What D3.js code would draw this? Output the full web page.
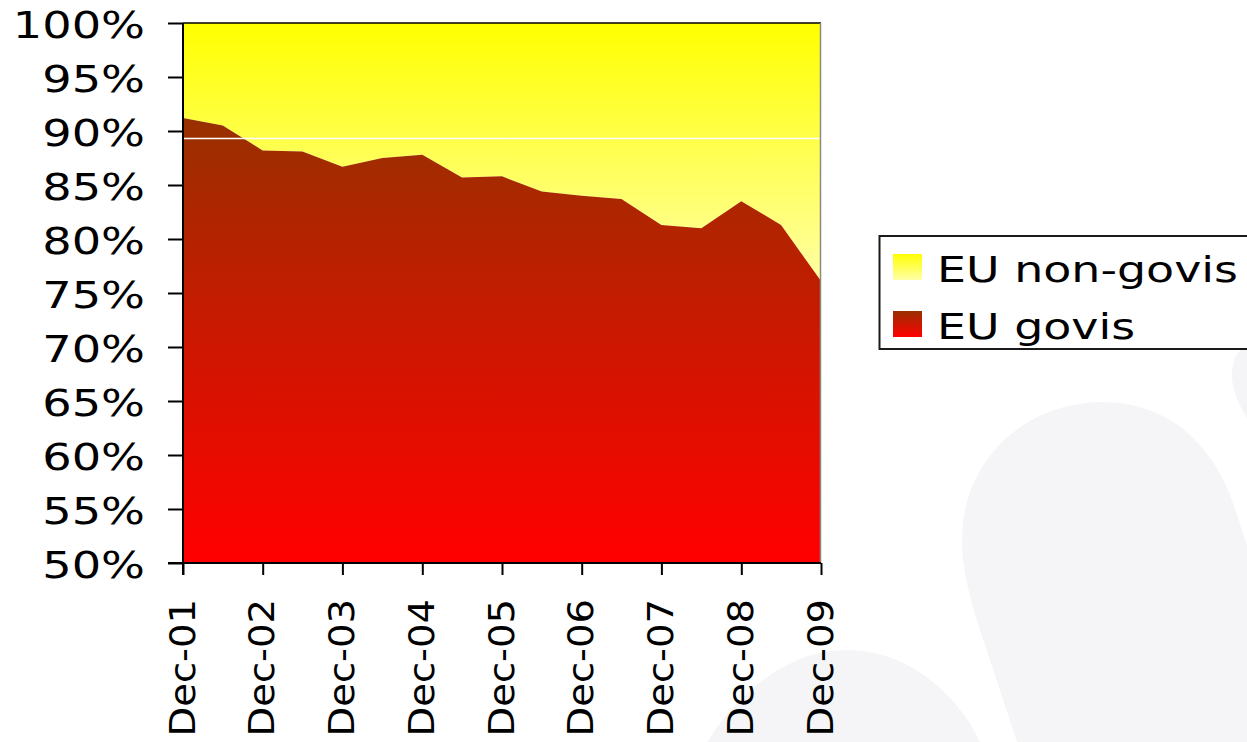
<!DOCTYPE html>
<html>
<head>
<meta charset="utf-8">
<script src="https://cdn.jsdelivr.net/npm/d3@7"></script>
<style>
  html, body { margin: 0; padding: 0; background: #ffffff; }
  svg { display: block; }
  text { font-family: "DejaVu Sans", Verdana, sans-serif; fill: #000; }
</style>
</head>
<body>
<svg id="chart" width="1247" height="742"></svg>
<script>
// Half-yearly share of EU govis vs non-govis (percent of total)
const periods = ["Dec-01","Jun-02","Dec-02","Jun-03","Dec-03","Jun-04","Dec-04","Jun-05","Dec-05",
                 "Jun-06","Dec-06","Jun-07","Dec-07","Jun-08","Dec-08","Jun-09","Dec-09"];
const govis    = [91.2, 90.5, 88.2, 88.1, 86.7, 87.5, 87.8, 85.7, 85.8, 84.4, 84.0, 83.7, 81.3, 81.0, 83.5, 81.3, 76.1];
const nonGovis = [ 8.8,  9.5, 11.8, 11.9, 13.3, 12.5, 12.2, 14.3, 14.2, 15.6, 16.0, 16.3, 18.7, 19.0, 16.5, 18.7, 23.9];
const xTickLabels = ["Dec-01","Dec-02","Dec-03","Dec-04","Dec-05","Dec-06","Dec-07","Dec-08","Dec-09"];
const yTicks = [50, 55, 60, 65, 70, 75, 80, 85, 90, 95, 100];
const refLineValue = 89.3;
const seriesNames = ["EU non-govis", "EU govis"];

const parse = d3.timeParse("%b-%y");
const fmt = d3.timeFormat("%b-%y");

const rows = periods.map((p, i) => ({ date: parse(p), govis: govis[i], nonGovis: nonGovis[i] }));
const stacked = d3.stack().keys(["govis", "nonGovis"])(rows);

const svg = d3.select("#chart");
const plot = { left: 183, right: 821, top: 23, bottom: 563 };

const x = d3.scaleTime()
  .domain(d3.extent(rows, d => d.date))
  .range([plot.left, plot.right]);
const y = d3.scaleLinear()
  .domain([50, 100])
  .range([plot.bottom, plot.top])
  .clamp(true);

// Faint watermark shapes in the lower right
const wm = svg.append("g").attr("fill", "#f5f5f8");
wm.append("path").attr("d",
  "M1017,742 L985,645 C970,600 962,570 962,540 C962,460 1025,402 1103,402 C1165,402 1210,440 1232,500 L1247,545 L1247,742 Z");
wm.append("path").attr("d",
  "M707,742 C740,690 790,650 846,650 C905,650 955,690 980,742 Z");
wm.append("path").attr("d",
  "M1247,346 C1238,349 1232,360 1232,375 C1232,392 1240,406 1247,418 Z");

// Gradients
const defs = svg.append("defs");
const gYellow = defs.append("linearGradient").attr("id", "gYellow")
  .attr("gradientUnits", "userSpaceOnUse")
  .attr("x1", 0).attr("x2", 0).attr("y1", y(100)).attr("y2", y(d3.min(govis)));
gYellow.append("stop").attr("offset", "0%").attr("stop-color", "#ffff00");
gYellow.append("stop").attr("offset", "100%").attr("stop-color", "#ffffa4");

const gRed = defs.append("linearGradient").attr("id", "gRed")
  .attr("gradientUnits", "userSpaceOnUse")
  .attr("x1", 0).attr("x2", 0).attr("y1", y(d3.max(govis))).attr("y2", y(50) - 8);
gRed.append("stop").attr("offset", "0%").attr("stop-color", "#983000");
gRed.append("stop").attr("offset", "100%").attr("stop-color", "#ff0000");

const gYellowKey = defs.append("linearGradient").attr("id", "gYellowKey")
  .attr("x1", 0).attr("x2", 0).attr("y1", 0).attr("y2", 1);
gYellowKey.append("stop").attr("offset", "0%").attr("stop-color", "#ffff00");
gYellowKey.append("stop").attr("offset", "100%").attr("stop-color", "#ffffa8");
const gRedKey = defs.append("linearGradient").attr("id", "gRedKey")
  .attr("x1", 0).attr("x2", 0).attr("y1", 0).attr("y2", 1);
gRedKey.append("stop").attr("offset", "0%").attr("stop-color", "#983000");
gRedKey.append("stop").attr("offset", "100%").attr("stop-color", "#ff0000");

// Stacked areas
const area = d3.area()
  .x(d => x(d.data.date))
  .y0(d => y(d[0]))
  .y1(d => y(d[1]));

const fills = { govis: "url(#gRed)", nonGovis: "url(#gYellow)" };
svg.append("g")
  .selectAll("path")
  .data(stacked.slice().reverse())
  .join("path")
  .attr("fill", d => fills[d.key])
  .attr("d", area);

// Light reference line across the plot
svg.append("line")
  .attr("x1", plot.left).attr("x2", plot.right)
  .attr("y1", y(refLineValue)).attr("y2", y(refLineValue))
  .attr("stroke", "#ffffff").attr("stroke-width", 1.4);

// Frame: top black, right grey
svg.append("line")
  .attr("x1", plot.left).attr("x2", plot.right)
  .attr("y1", plot.top).attr("y2", plot.top)
  .attr("stroke", "#000").attr("stroke-width", 1.5);
svg.append("line")
  .attr("x1", plot.right - 0.5).attr("x2", plot.right - 0.5)
  .attr("y1", plot.top).attr("y2", plot.bottom)
  .attr("stroke", "#8a8a80").attr("stroke-width", 1.5);

// Y axis
const yAxis = d3.axisLeft(y)
  .tickValues(yTicks)
  .tickSize(15)
  .tickPadding(0)
  .tickFormat(d => d + "%");
const gy = svg.append("g")
  .attr("transform", `translate(${plot.left},0)`)
  .call(yAxis);
gy.select(".domain").attr("stroke", "#000").attr("stroke-width", 2)
  .attr("d", `M0,${plot.top}V${plot.bottom + 12}`);
gy.selectAll(".tick line").attr("stroke", "#000").attr("stroke-width", 2);
gy.selectAll(".tick text")
  .attr("x", null).attr("dy", null)
  .attr("text-anchor", "end")
  .attr("font-size", 37)
  .attr("transform", "translate(-38,14.5) scale(1.25,1)");

// X axis
const xAxis = d3.axisBottom(x)
  .tickValues(xTickLabels.map(parse))
  .tickSize(12)
  .tickPadding(0)
  .tickFormat(fmt);
const gx = svg.append("g")
  .attr("transform", `translate(0,${plot.bottom})`)
  .call(xAxis);
gx.select(".domain").attr("stroke", "#000").attr("stroke-width", 2)
  .attr("d", `M${plot.left - 15},0H${plot.right}`);
gx.selectAll(".tick line").attr("stroke", "#000").attr("stroke-width", 2);
gx.selectAll(".tick text")
  .attr("x", null).attr("y", null).attr("dy", null)
  .attr("text-anchor", "end")
  .attr("font-size", 36)
  .attr("transform", "translate(11,36) rotate(-90) scale(1.07,1)");

// Legend
const legend = svg.append("g");
legend.append("rect")
  .attr("x", 879.5).attr("y", 236).attr("width", 420).attr("height", 113)
  .attr("fill", "#ffffff").attr("stroke", "#1a1a1a").attr("stroke-width", 2);
const keyFills = ["url(#gYellowKey)", "url(#gRedKey)"];
const item = legend.selectAll("g.item")
  .data(seriesNames)
  .join("g")
  .attr("class", "item")
  .attr("transform", (d, i) => `translate(893,${254 + i * 57})`);
item.append("rect")
  .attr("width", 29).attr("height", 26)
  .attr("fill", (d, i) => keyFills[i]);
item.append("text")
  .attr("font-size", 36)
  .attr("transform", "translate(44,27.5) scale(1.275,1)")
  .text(d => d);
</script>
</body>
</html>
